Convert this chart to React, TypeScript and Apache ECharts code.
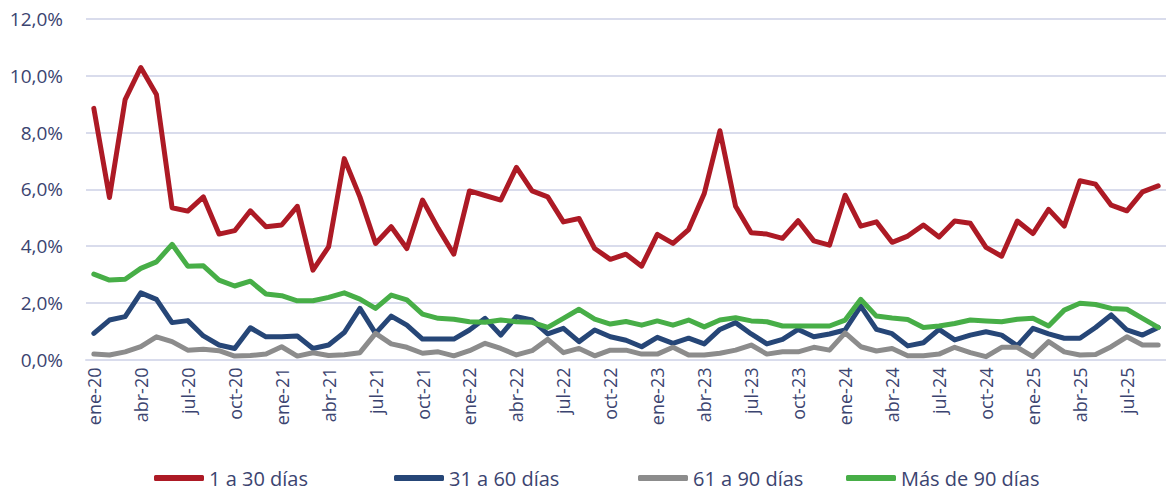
import React, { useEffect, useRef } from "react";
import * as echarts from "echarts";

const categories = [
  "ene-20","feb-20","mar-20","abr-20","may-20","jun-20","jul-20","ago-20","sep-20","oct-20","nov-20","dic-20",
  "ene-21","feb-21","mar-21","abr-21","may-21","jun-21","jul-21","ago-21","sep-21","oct-21","nov-21","dic-21",
  "ene-22","feb-22","mar-22","abr-22","may-22","jun-22","jul-22","ago-22","sep-22","oct-22","nov-22","dic-22",
  "ene-23","feb-23","mar-23","abr-23","may-23","jun-23","jul-23","ago-23","sep-23","oct-23","nov-23","dic-23",
  "ene-24","feb-24","mar-24","abr-24","may-24","jun-24","jul-24","ago-24","sep-24","oct-24","nov-24","dic-24",
  "ene-25","feb-25","mar-25","abr-25","may-25","jun-25","jul-25","ago-25","sep-25",
];

const seriesNames = ["1 a 30 días", "31 a 60 días", "61 a 90 días", "Más de 90 días"];

const dias1a30 = [
  8.85, 5.71, 9.16, 10.29, 9.34, 5.35, 5.23, 5.73, 4.42, 4.54, 5.24, 4.68,
  4.74, 5.40, 3.15, 3.97, 7.08, 5.73, 4.09, 4.68, 3.91, 5.62, 4.62, 3.71,
  5.94, 5.78, 5.62, 6.77, 5.94, 5.73, 4.85, 4.97, 3.91, 3.53, 3.71, 3.29,
  4.41, 4.09, 4.58, 5.85, 8.06, 5.40, 4.47, 4.42, 4.27, 4.89, 4.18, 4.03,
  5.79, 4.70, 4.85, 4.13, 4.35, 4.74, 4.32, 4.88, 4.80, 3.95, 3.64, 4.88,
  4.44, 5.29, 4.70, 6.30, 6.18, 5.44, 5.24, 5.91, 6.12,
];

const dias31a60 = [
  0.92, 1.39, 1.51, 2.35, 2.12, 1.30, 1.37, 0.83, 0.51, 0.39, 1.12, 0.80,
  0.80, 0.83, 0.39, 0.51, 0.95, 1.80, 0.92, 1.53, 1.21, 0.72, 0.72, 0.72,
  1.04, 1.45, 0.86, 1.51, 1.39, 0.90, 1.10, 0.63, 1.04, 0.80, 0.68, 0.45,
  0.78, 0.57, 0.75, 0.55, 1.06, 1.30, 0.90, 0.55, 0.71, 1.06, 0.80, 0.90,
  1.04, 1.88, 1.06, 0.91, 0.48, 0.59, 1.06, 0.69, 0.86, 0.98, 0.86, 0.48,
  1.10, 0.90, 0.75, 0.75, 1.13, 1.57, 1.04, 0.86, 1.13,
];

const dias61a90 = [
  0.19, 0.16, 0.27, 0.45, 0.80, 0.63, 0.33, 0.36, 0.31, 0.12, 0.14, 0.19,
  0.45, 0.12, 0.24, 0.14, 0.17, 0.24, 0.92, 0.55, 0.43, 0.22, 0.27, 0.13,
  0.31, 0.57, 0.39, 0.16, 0.31, 0.71, 0.24, 0.39, 0.13, 0.33, 0.33, 0.19,
  0.19, 0.43, 0.16, 0.16, 0.22, 0.33, 0.51, 0.19, 0.27, 0.27, 0.43, 0.33,
  0.94, 0.45, 0.30, 0.39, 0.13, 0.13, 0.19, 0.43, 0.24, 0.10, 0.43, 0.43,
  0.10, 0.63, 0.27, 0.16, 0.18, 0.45, 0.80, 0.51, 0.51,
];

const masDe90 = [
  3.01, 2.80, 2.83, 3.21, 3.44, 4.06, 3.29, 3.30, 2.80, 2.59, 2.76, 2.31,
  2.25, 2.07, 2.07, 2.19, 2.35, 2.13, 1.80, 2.27, 2.10, 1.60, 1.45, 1.42,
  1.33, 1.31, 1.39, 1.33, 1.31, 1.13, 1.45, 1.77, 1.42, 1.25, 1.34, 1.21,
  1.36, 1.21, 1.39, 1.15, 1.39, 1.47, 1.36, 1.33, 1.18, 1.18, 1.18, 1.18,
  1.39, 2.12, 1.53, 1.46, 1.41, 1.13, 1.18, 1.27, 1.39, 1.36, 1.33, 1.42,
  1.45, 1.18, 1.74, 1.98, 1.94, 1.80, 1.77, 1.45, 1.13,
];

const yTicks = { min: 0, max: 12, interval: 2 };

const seriesColors = ["#ad1a25", "#264677", "#8c8c8c", "#47ae47"];
const legendLefts = [154, 394, 638, 846];

const TEXT_COLOR = "#3b4470";
const GRID_COLOR = "#d9dcec";

export default function App() {
  const ref = useRef<HTMLDivElement>(null);

  useEffect(() => {
    if (!ref.current) return;
    const chart = echarts.init(ref.current, undefined, { renderer: "svg" });
    const allData = [dias1a30, dias31a60, dias61a90, masDe90];
    const series = seriesNames.map((name, i) => ({
      name,
      type: "line",
      data: allData[i],
      showSymbol: false,
      symbol: "none",
      lineStyle: { color: seriesColors[i], width: 5, cap: "round", join: "round" },
      itemStyle: { color: seriesColors[i] },
      emphasis: { disabled: true },
    }));
    const legends = seriesNames.map((name, i) => ({
      left: legendLefts[i],
      top: 466,
      padding: 0,
      itemWidth: 50,
      itemHeight: 6,
      icon: "roundRect",
      selectedMode: false,
      textStyle: {
        color: TEXT_COLOR,
        fontSize: 20,
        lineHeight: 24,
        fontFamily: "'Open Sans', sans-serif",
      },
      data: [name],
    }));
    chart.setOption({
      animation: false,
      grid: { left: 86, right: -5, top: 19, bottom: 136.5, containLabel: false },
      xAxis: {
        type: "category",
        data: categories,
        boundaryGap: true,
        axisLine: { show: true, lineStyle: { color: GRID_COLOR, width: 2 } },
        axisTick: { show: false },
        axisLabel: {
          interval: 2,
          rotate: 90,
          margin: 8,
          color: TEXT_COLOR,
          fontSize: 18,
          fontFamily: "Open Sans",
        },
      },
      yAxis: {
        type: "value",
        min: yTicks.min,
        max: yTicks.max,
        interval: yTicks.interval,
        axisLine: { show: false },
        axisTick: { show: false },
        splitLine: { lineStyle: { color: GRID_COLOR, width: 2 } },
        axisLabel: {
          margin: 23,
          color: TEXT_COLOR,
          fontSize: 19,
          fontFamily: "Open Sans",
          formatter: (v: number) => v.toFixed(1).replace(".", ",") + "%",
        },
      },
      legend: legends,
      series,
    });
    return () => chart.dispose();
  }, []);

  return (
    <div
      ref={ref}
      style={{ position: "fixed", left: 0, top: 0, width: 1166, height: 496, background: "#ffffff" }}
    />
  );
}
